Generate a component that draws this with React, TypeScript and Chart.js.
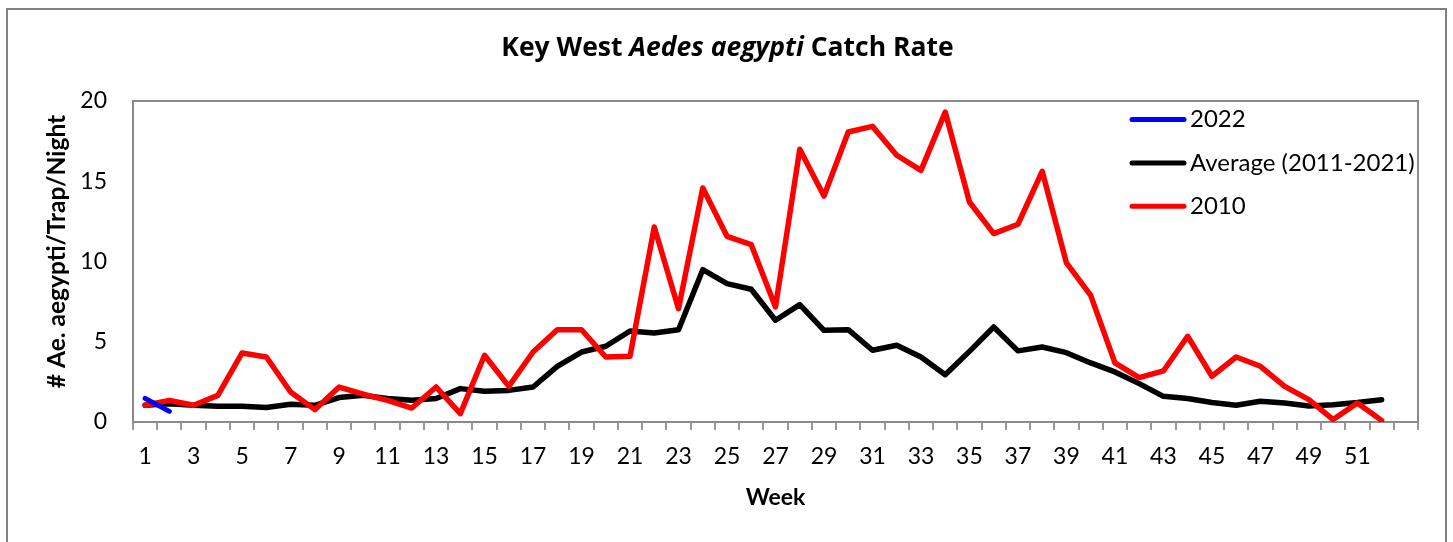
import React, { useEffect, useRef } from 'react';
import { Chart, registerables } from 'chart.js';

Chart.register(...registerables);

const WEEKS: string[] = [
  '1', '2', '3', '4', '5', '6', '7', '8', '9', '10',
  '11', '12', '13', '14', '15', '16', '17', '18', '19', '20',
  '21', '22', '23', '24', '25', '26', '27', '28', '29', '30',
  '31', '32', '33', '34', '35', '36', '37', '38', '39', '40',
  '41', '42', '43', '44', '45', '46', '47', '48', '49', '50',
  '51', '52', '',
];

const SERIES_2022: (number | null)[] = [1.47, 0.66];

const SERIES_AVERAGE: number[] = [
  1.04, 1.14, 1.04, 0.98, 0.98, 0.9, 1.1, 1.04, 1.52, 1.66,
  1.46, 1.35, 1.46, 2.08, 1.91, 1.97, 2.18, 3.47, 4.36, 4.72,
  5.67, 5.55, 5.75, 9.49, 8.62, 8.27, 6.34, 7.31, 5.71, 5.75,
  4.47, 4.78, 4.05, 2.95, 4.4, 5.92, 4.43, 4.67, 4.32, 3.68,
  3.12, 2.39, 1.6, 1.46, 1.21, 1.04, 1.29, 1.18, 1.0, 1.08,
  1.21, 1.39,
];

const SERIES_2010: number[] = [
  1.04, 1.35, 1.04, 1.66, 4.3, 4.05, 1.87, 0.77, 2.18, 1.73,
  1.35, 0.87, 2.18, 0.52, 4.16, 2.22, 4.36, 5.75, 5.75, 4.05,
  4.1, 12.15, 7.06, 14.58, 11.57, 11.05, 7.17, 16.99, 14.08, 18.07,
  18.42, 16.62, 15.68, 19.31, 13.71, 11.74, 12.32, 15.62, 9.91, 7.89,
  3.68, 2.77, 3.18, 5.34, 2.85, 4.05, 3.47, 2.22, 1.39, 0.15,
  1.18, 0.1,
];

const SERIES_LABELS = ['2022', 'Average (2011-2021)', '2010'];
const SERIES_COLORS = ['#0000FF', '#000000', '#FF0000'];

const TITLE_PARTS = [
  { text: 'Key West ', italic: false },
  { text: 'Aedes aegypti', italic: true },
  { text: ' Catch Rate', italic: false },
];
const X_TITLE = 'Week';
const Y_TITLE = '# Ae. aegypti/Trap/Night';
const Y_MIN = 0;
const Y_MAX = 20;
const Y_STEP = 5;

const FONT = 'Lato';
const FS = 23;

const decorPlugin = {
  id: 'decor',
  beforeDraw(chart: any) {
    const ctx = chart.ctx;
    ctx.save();
    ctx.fillStyle = '#ffffff';
    ctx.fillRect(0, 0, chart.width, chart.height);
    ctx.strokeStyle = '#808080';
    ctx.lineWidth = 2;
    ctx.strokeRect(7, 9, 1439, 700);
    ctx.restore();
  },
  beforeDatasetsDraw(chart: any) {
    const ctx = chart.ctx;
    const { left, right, top, bottom } = chart.chartArea;
    ctx.save();
    ctx.strokeStyle = '#8a8a8a';
    ctx.lineWidth = 2;
    ctx.strokeRect(left, top, right - left, bottom - top);
    ctx.restore();
  },
  afterDraw(chart: any) {
    const ctx = chart.ctx;
    const ca = chart.chartArea;
    ctx.save();
    ctx.fillStyle = '#000';
    // Title
    ctx.textBaseline = 'alphabetic';
    ctx.textAlign = 'left';
    const fontFor = (italic: boolean) => `${italic ? 'italic ' : ''}bold 26.5px "Open Sans"`;
    let total = 0;
    const widths = TITLE_PARTS.map((p) => {
      ctx.font = fontFor(p.italic);
      const w = ctx.measureText(p.text).width;
      total += w;
      return w;
    });
    let x = chart.width / 2 + 1 - total / 2;
    TITLE_PARTS.forEach((p, i) => {
      ctx.font = fontFor(p.italic);
      ctx.fillText(p.text, x, 55.5);
      x += widths[i];
    });
    // Y axis title
    ctx.save();
    ctx.translate(57, 251.5);
    ctx.rotate(-Math.PI / 2);
    ctx.textAlign = 'center';
    ctx.textBaseline = 'middle';
    ctx.font = `bold 24.5px ${FONT}`;
    ctx.fillText(Y_TITLE, 0, 0);
    ctx.restore();
    // Legend
    ctx.textAlign = 'left';
    ctx.textBaseline = 'middle';
    const lx = ca.left + 997;
    const ly0 = ca.top + 18.5;
    const gap = 43.4;
    chart.data.datasets.forEach((ds: any, i: number) => {
      const y = ly0 + i * gap;
      ctx.strokeStyle = ds.borderColor;
      ctx.lineWidth = 5;
      ctx.lineCap = 'round';
      ctx.beginPath();
      ctx.moveTo(lx + 2, y);
      ctx.lineTo(lx + 54, y);
      ctx.stroke();
      ctx.font = `24px ${FONT}`;
      ctx.fillStyle = '#000';
      ctx.fillText(ds.label, lx + 60, y);
    });
    ctx.restore();
  },
};

export default function App() {
  const ref = useRef<HTMLCanvasElement | null>(null);

  useEffect(() => {
    document.body.style.margin = '0';
    document.body.style.overflow = 'hidden';
    if (!ref.current) return;
    Chart.defaults.font.family = FONT;
    Chart.defaults.color = '#000';
    const chart = new Chart(ref.current, {
      type: 'line',
      data: {
        labels: WEEKS,
        datasets: [
          {
            label: SERIES_LABELS[0],
            data: SERIES_2022,
            borderColor: SERIES_COLORS[0],
            backgroundColor: SERIES_COLORS[0],
            borderWidth: 5,
            order: 0,
          },
          {
            label: SERIES_LABELS[1],
            data: SERIES_AVERAGE,
            borderColor: SERIES_COLORS[1],
            backgroundColor: SERIES_COLORS[1],
            borderWidth: 5.5,
            order: 2,
          },
          {
            label: SERIES_LABELS[2],
            data: SERIES_2010,
            borderColor: SERIES_COLORS[2],
            backgroundColor: SERIES_COLORS[2],
            borderWidth: 5.5,
            order: 1,
          },
        ],
      },
      options: {
        responsive: true,
        maintainAspectRatio: false,
        animation: false,
        layout: { padding: { left: 0, right: 35, top: 101, bottom: 0 } },
        elements: {
          point: { radius: 0, hoverRadius: 0 },
          line: { tension: 0, borderJoinStyle: 'round', borderCapStyle: 'round' },
        },
        plugins: {
          legend: { display: false },
          title: { display: false },
          tooltip: { enabled: false },
        },
        scales: {
          x: {
            type: 'category',
            offset: true,
            grid: {
              display: true,
              drawOnChartArea: false,
              drawTicks: true,
              tickLength: 8,
              color: '#9a9a9a',
              lineWidth: 2,
              offset: true,
            },
            border: { display: false },
            ticks: {
              autoSkip: false,
              maxRotation: 0,
              minRotation: 0,
              padding: 13,
              color: '#000',
              font: { size: FS },
              callback: function (this: any, v: any, i: number) {
                return i % 2 === 0 ? this.getLabelForValue(v) : '';
              },
            },
            title: {
              display: true,
              text: X_TITLE,
              color: '#000',
              font: { size: FS, weight: 'bold' },
              padding: { top: 0, bottom: 31 },
            },
            afterFit: (s: any) => {
              s.height = 120;
            },
          },
          y: {
            min: Y_MIN,
            max: Y_MAX,
            grid: { display: false, drawTicks: false },
            border: { display: false },
            ticks: {
              stepSize: Y_STEP,
              padding: 26,
              color: '#000',
              font: { size: FS },
            },
            title: { display: false },
            afterFit: (s: any) => {
              s.width = 133;
            },
          },
        },
      } as any,
      plugins: [decorPlugin],
    });
    return () => chart.destroy();
  }, []);

  return (
    <div style={{ position: 'relative', width: '1453px', height: '542px', overflow: 'hidden' }}>
      <canvas ref={ref} />
    </div>
  );
}
